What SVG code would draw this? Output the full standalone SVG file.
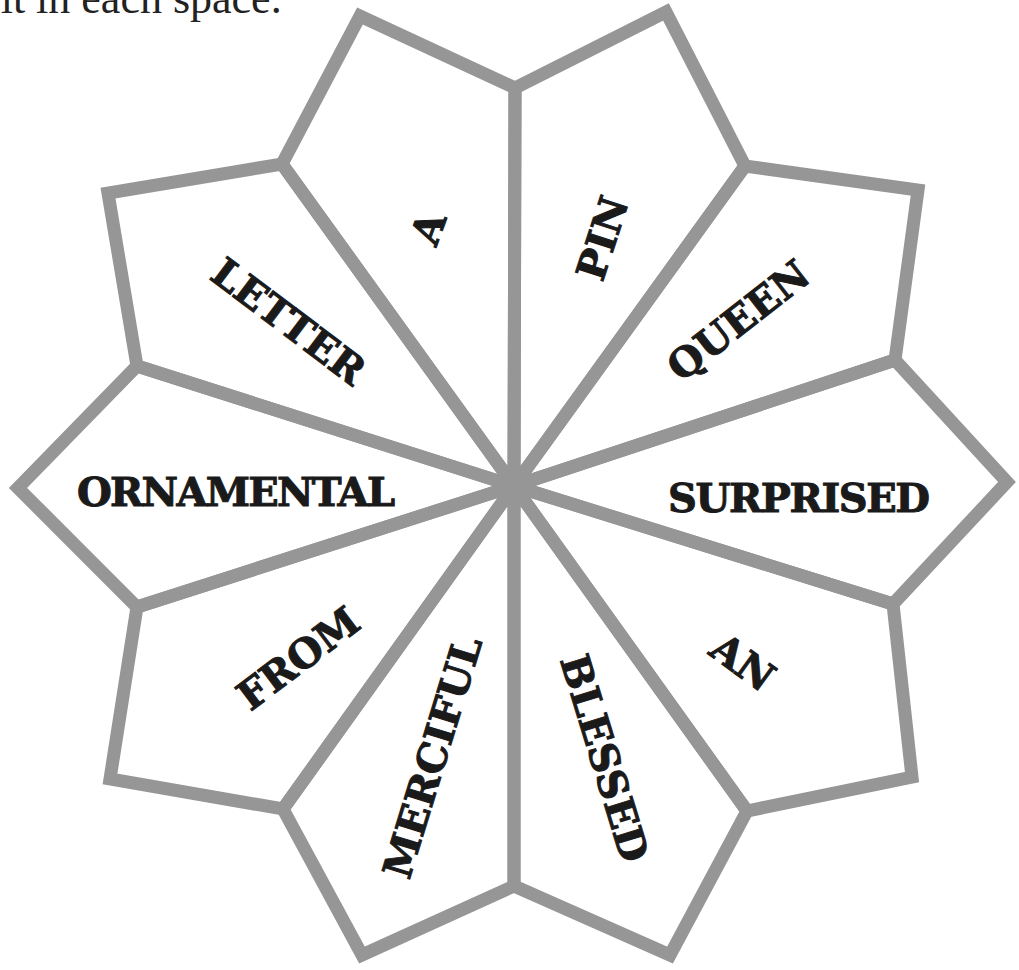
<svg xmlns="http://www.w3.org/2000/svg" width="1019" height="970" viewBox="0 0 1019 970">
<style>
  .petal { fill: none; stroke: #969696; stroke-width: 13; stroke-linejoin: miter; stroke-miterlimit: 3; }
  .lbl { font-family: "DejaVu Serif", "Liberation Serif", serif; font-weight: bold; font-size: 40px; fill: #1a1a1a; stroke: #1a1a1a; stroke-width: 1; text-anchor: middle; }
  .cap { font-family: "Liberation Serif", "DejaVu Serif", serif; font-size: 44px; fill: #222; }
</style>
<rect width="1019" height="970" fill="#ffffff"/>
<text class="cap" x="-14" y="13">fit in each space.</text>
<g id="connectors"></g>
<g id="petal-pin">
  <polygon class="petal" points="514,486 515,88 666,12 745,166"/>
  <text class="lbl" transform="translate(602,238) rotate(-72)" x="0" y="14.5">PIN</text>
</g>
<g id="petal-queen">
  <polygon class="petal" points="514,486 745,166 918,190 895,360"/>
  <text class="lbl" transform="translate(738,320) rotate(-38)" x="0" y="14.5">QUEEN</text>
</g>
<g id="petal-surprised">
  <polygon class="petal" points="514,486 895,360 1007,482 893,604"/>
  <text class="lbl" transform="translate(799,497)" x="0" y="14.5" textLength="262">SURPRISED</text>
</g>
<g id="petal-an">
  <polygon class="petal" points="514,486 893,604 912,777 747,811"/>
  <text class="lbl" transform="translate(743,662) rotate(36)" x="0" y="14.5">AN</text>
</g>
<g id="petal-blessed">
  <polygon class="petal" points="514,486 747,811 670,955 514,886"/>
  <text class="lbl" transform="translate(605,758) rotate(73)" x="0" y="14.5">BLESSED</text>
</g>
<g id="petal-merciful">
  <polygon class="petal" points="514,486 514,886 362,955 283,809"/>
  <text class="lbl" transform="translate(432,757) rotate(-73)" x="0" y="14.5">MERCIFUL</text>
</g>
<g id="petal-from">
  <polygon class="petal" points="514,486 283,809 110,779 137,607"/>
  <text class="lbl" transform="translate(298,658) rotate(-37)" x="0" y="14.5">FROM</text>
</g>
<g id="petal-ornamental">
  <polygon class="petal" points="514,486 137,607 18,488 137,366"/>
  <text class="lbl" transform="translate(236,491)" x="0" y="14.5" textLength="318">ORNAMENTAL</text>
</g>
<g id="petal-letter">
  <polygon class="petal" points="514,486 137,366 108,193 282,164"/>
  <text class="lbl" transform="translate(289,321) rotate(37)" x="0" y="14.5">LETTER</text>
</g>
<g id="petal-a">
  <polygon class="petal" points="514,486 282,164 360,16 515,88"/>
  <text class="lbl" transform="translate(428,228) rotate(-70)" x="0" y="14.5">A</text>
</g>
</svg>
